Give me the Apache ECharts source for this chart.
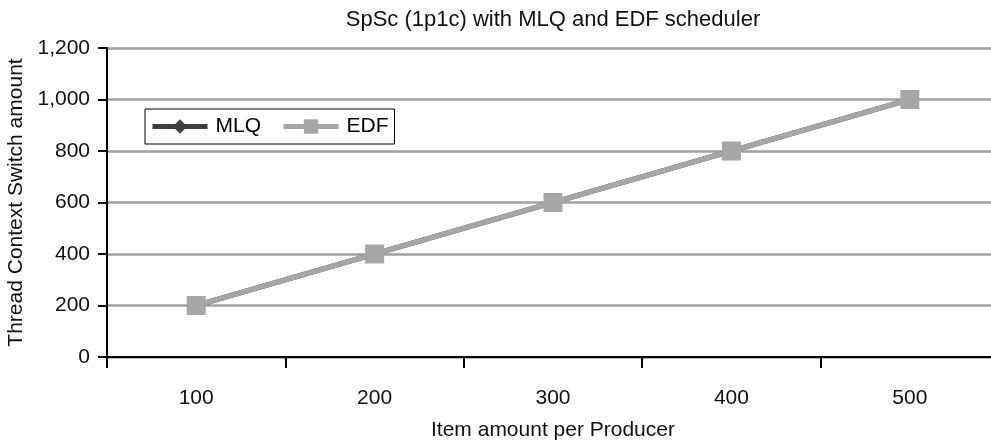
<!DOCTYPE html>
<html><head><meta charset="utf-8">
<script src="https://cdn.jsdelivr.net/npm/echarts@6/dist/echarts.min.js"></script>
<style>html,body{margin:0;padding:0;background:#fff}#c{width:991px;height:441px}</style>
</head><body><div id="c"></div>
<script>
const categories = ['100','200','300','400','500'];
const mlq = [200, 400, 600, 800, 1000];
const edf = [200, 400, 600, 800, 1000];
const yTicks = [0, 200, 400, 600, 800, 1000, 1200];

const chart = echarts.init(document.getElementById('c'));
const font = 'Liberation Sans, Arial, sans-serif';
chart.setOption({
  animation: false,
  backgroundColor: '#fff',
  title: {
    text: 'SpSc (1p1c) with MLQ and EDF scheduler',
    left: 548, top: 4, textAlign: 'center',
    textStyle: {fontFamily: font, fontSize: 22, fontWeight: 'normal', color: '#111'}
  },
  legend: {
    left: 145, top: 109, width: 243, height: 22,
    padding: [7, 6, 7, 5],
    itemGap: 20,
    itemWidth: 55, itemHeight: 18,
    borderColor: '#000', borderWidth: 1,
    lineStyle: {width: 5},
    textStyle: {fontFamily: font, fontSize: 21, color: '#000', padding: [0, 0, 0, 3]},
    data: ['MLQ', 'EDF']
  },
  grid: {left: 107, right: -8, top: 48, bottom: 84, containLabel: false, outerBoundsMode: 'none'},
  xAxis: {
    type: 'category', data: categories, boundaryGap: true,
    name: 'Item amount per Producer', nameLocation: 'middle', nameGap: 63,
    nameTextStyle: {fontFamily: font, fontSize: 21, color: '#111'},
    axisLine: {lineStyle: {color: '#000', width: 2}},
    axisTick: {show: true, length: 11, lineStyle: {color: '#000', width: 2}},
    axisLabel: {fontFamily: font, fontSize: 21, color: '#111', margin: 31},
    splitLine: {show: false}
  },
  yAxis: {
    type: 'value', min: yTicks[0], max: yTicks[yTicks.length - 1], interval: 200,
    name: 'Thread Context Switch amount', nameLocation: 'middle', nameGap: 80,
    nameTextStyle: {fontFamily: font, fontSize: 21, color: '#111'},
    axisLine: {show: true, lineStyle: {color: '#000', width: 2}},
    axisTick: {show: true, length: 9, lineStyle: {color: '#000', width: 2}},
    axisLabel: {fontFamily: font, fontSize: 21, color: '#111', margin: 17,
      formatter: v => v.toLocaleString('en-US')},
    splitLine: {show: true, lineStyle: {color: '#a0a0a0', width: 2.5}}
  },
  series: [
    {name: 'MLQ', type: 'line', data: mlq, symbol: 'diamond', symbolSize: 14,
     lineStyle: {color: '#404040', width: 5}, itemStyle: {color: '#404040'}, z: 2},
    {name: 'EDF', type: 'line', data: edf, symbol: 'rect', symbolSize: 19,
     lineStyle: {color: '#a6a6a6', width: 5}, itemStyle: {color: '#a6a6a6'}, z: 3}
  ]
});
</script></body></html>
